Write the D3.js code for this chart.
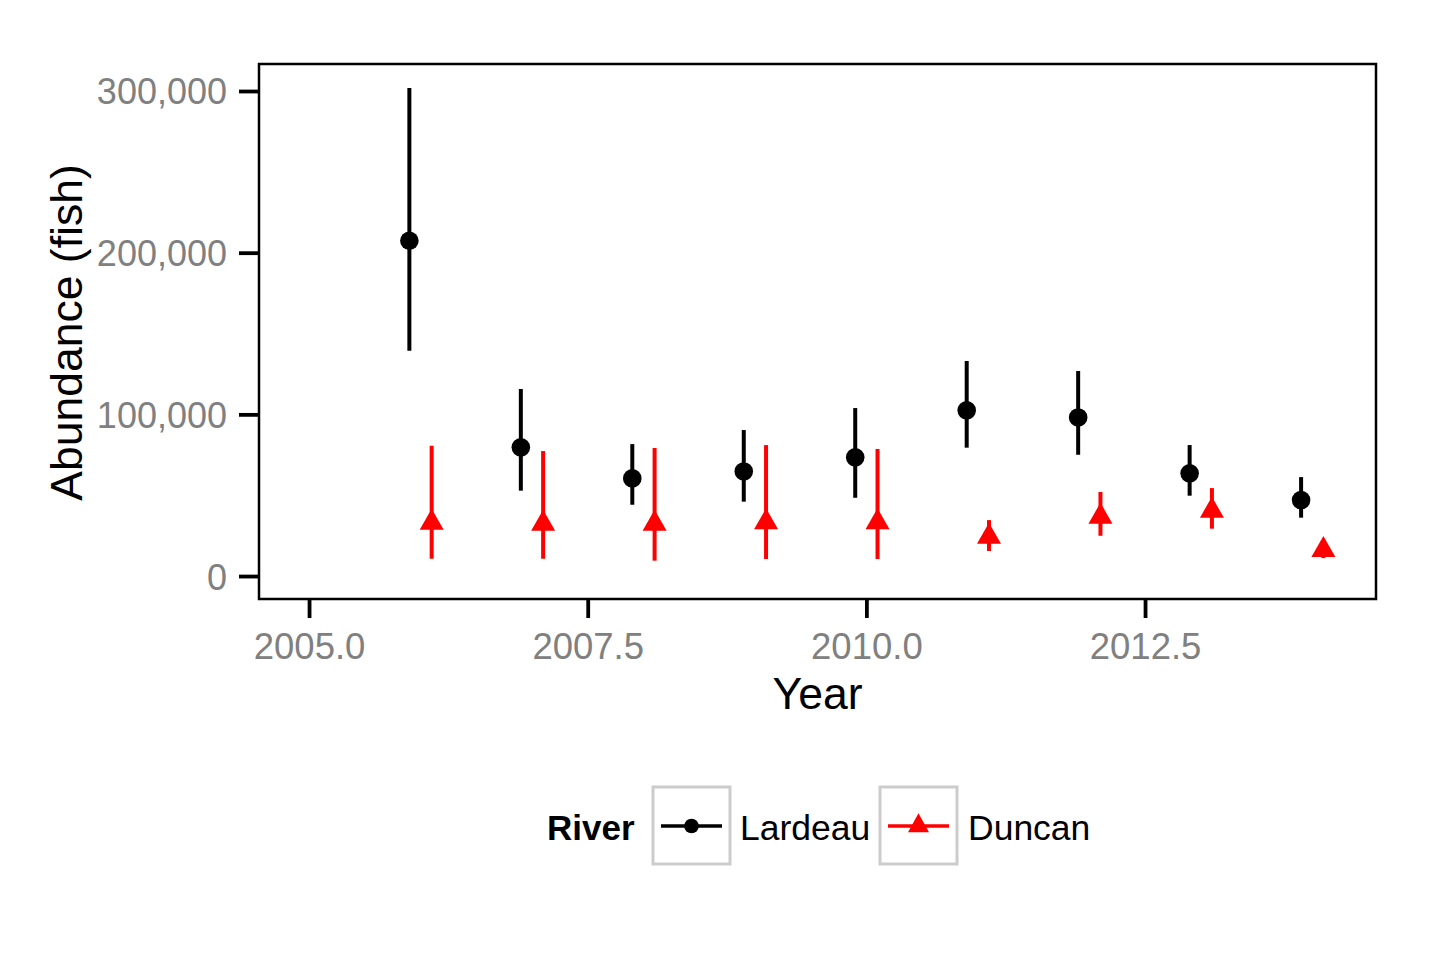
<!DOCTYPE html>
<html>
<head>
<meta charset="utf-8">
<script src="https://cdn.jsdelivr.net/npm/d3@7"></script>
<style>
  html, body { margin: 0; padding: 0; background: #ffffff; }
  svg { display: block; font-family: "Liberation Sans", Arial, sans-serif; }
</style>
</head>
<body>
<svg id="chart" width="1440" height="960"></svg>
<script>
// ---- data ----
const years = [2006, 2007, 2008, 2009, 2010, 2011, 2012, 2013, 2014];
const lardeauEst = [207400, 79600, 60400, 64700, 73400, 102500, 98100, 63500, 47000];
const lardeauLo  = [139400, 52800, 44100, 46000, 48400, 79400, 75000, 49700, 36100];
const lardeauHi  = [301900, 115700, 81600, 90300, 103900, 133000, 126800, 81000, 61200];
const duncanEst  = [33000, 32400, 32400, 33200, 33200, 24300, 36700, 40400, 16100];
const duncanLo   = [10700, 10700, 9500, 10500, 10500, 15500, 24900, 29300, 11100];
const duncanHi   = [80600, 77300, 79200, 81000, 78600, 34600, 52000, 54400, 19000];
const rivers = ["Lardeau", "Duncan"];
const xTicks = [2005.0, 2007.5, 2010.0, 2012.5];
const yTicks = [0, 100000, 200000, 300000];
const dodge = 0.1;

// ---- layout ----
const panel = { left: 259, right: 1376, top: 64, bottom: 599 };
const svg = d3.select("#chart");

const x = d3.scaleLinear().domain([2004.551, 2014.572]).range([panel.left, panel.right]);
const y = d3.scaleLinear().domain([-14200, 316700]).range([panel.bottom, panel.top]);

const colors = { Lardeau: "#000000", Duncan: "#ff0000" };

const series = [
  { name: "Lardeau", off: -dodge, est: lardeauEst, lo: lardeauLo, hi: lardeauHi },
  { name: "Duncan",  off:  dodge, est: duncanEst,  lo: duncanLo,  hi: duncanHi }
];

// axes (ticks + labels)
const tickColor = "#000000";
const labelColor = "#808080";

const yAxis = svg.append("g").attr("transform", `translate(${panel.left},0)`)
  .call(d3.axisLeft(y).tickValues(yTicks).tickSize(20).tickPadding(12)
        .tickFormat(d3.format(",")));
yAxis.select(".domain").remove();
yAxis.selectAll(".tick line").attr("stroke", tickColor).attr("stroke-width", 3.8);
yAxis.selectAll(".tick text").attr("fill", labelColor).attr("font-size", 36)
  .attr("font-family", "Liberation Sans, Arial, sans-serif").attr("dy", "0.36em");

const xAxis = svg.append("g").attr("transform", `translate(0,${panel.bottom})`)
  .call(d3.axisBottom(x).tickValues(xTicks).tickSize(19).tickPadding(15)
        .tickFormat(d3.format(".1f")));
xAxis.select(".domain").remove();
xAxis.selectAll(".tick line").attr("stroke", tickColor).attr("stroke-width", 3.8);
xAxis.selectAll(".tick text").attr("fill", labelColor).attr("font-size", 36.5)
  .attr("font-family", "Liberation Sans, Arial, sans-serif").attr("dy", "0.72em");

// marks
const triW = 24, triH = 21;
function triPath(cx, cy, w, h) {
  // centroid at (cx, cy)
  return `M${cx},${cy - 2 * h / 3}L${cx + w / 2},${cy + h / 3}L${cx - w / 2},${cy + h / 3}Z`;
}

series.forEach(s => {
  const g = svg.append("g");
  const data = years.map((yr, i) => ({ yr: yr + s.off, est: s.est[i], lo: s.lo[i], hi: s.hi[i] }));
  g.selectAll("line.err").data(data).enter().append("line")
    .attr("x1", d => x(d.yr)).attr("x2", d => x(d.yr))
    .attr("y1", d => y(d.lo)).attr("y2", d => y(d.hi))
    .attr("stroke", colors[s.name]).attr("stroke-width", 4);
  if (s.name === "Lardeau") {
    g.selectAll("circle").data(data).enter().append("circle")
      .attr("cx", d => x(d.yr)).attr("cy", d => y(d.est)).attr("r", 9.3)
      .attr("fill", colors[s.name]);
  } else {
    g.selectAll("path").data(data).enter().append("path")
      .attr("d", d => triPath(x(d.yr), y(d.est), triW, triH))
      .attr("fill", colors[s.name]);
  }
});

// panel border
svg.append("rect")
  .attr("x", panel.left).attr("y", panel.top)
  .attr("width", panel.right - panel.left).attr("height", panel.bottom - panel.top)
  .attr("fill", "none").attr("stroke", "#000").attr("stroke-width", 2.5);

// axis titles
svg.append("text").attr("x", (panel.left + panel.right) / 2).attr("y", 709)
  .attr("text-anchor", "middle").attr("font-size", 44.5).attr("fill", "#000")
  .text("Year");
svg.append("text")
  .attr("transform", `translate(82,${(panel.top + panel.bottom) / 2 + 1}) rotate(-90)`)
  .attr("text-anchor", "middle").attr("font-size", 44.5).attr("fill", "#000")
  .text("Abundance (fish)");

// legend
const leg = svg.append("g");
leg.append("text").attr("x", 547).attr("y", 840).attr("font-size", 35)
  .attr("font-weight", "bold").attr("fill", "#000").text("River");
const legItems = [
  { name: "Lardeau", bx: 653, tx: 740 },
  { name: "Duncan", bx: 880, tx: 968 }
];
legItems.forEach(it => {
  leg.append("rect").attr("x", it.bx).attr("y", 787).attr("width", 77).attr("height", 77)
    .attr("fill", "#fff").attr("stroke", "#cccccc").attr("stroke-width", 3);
  const cx = it.bx + 38.5, cy = 826;
  leg.append("line").attr("x1", it.bx + 8).attr("x2", it.bx + 69).attr("y1", cy).attr("y2", cy)
    .attr("stroke", colors[it.name]).attr("stroke-width", 3.6);
  if (it.name === "Lardeau") {
    leg.append("circle").attr("cx", cx).attr("cy", cy).attr("r", 7.3).attr("fill", colors[it.name]);
  } else {
    leg.append("path").attr("d", triPath(cx, cy, 21, 19)).attr("fill", colors[it.name]);
  }
  leg.append("text").attr("x", it.tx).attr("y", 840).attr("font-size", 35.5)
    .attr("fill", "#000").text(it.name);
});
</script>
</body>
</html>
